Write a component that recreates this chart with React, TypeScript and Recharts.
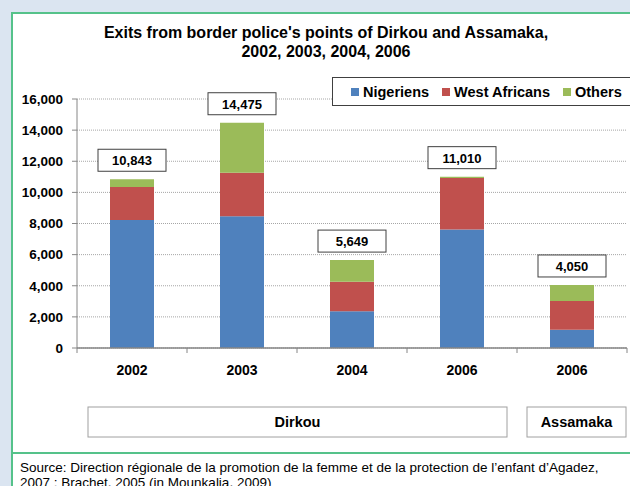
import { BarChart, Bar, XAxis, YAxis, CartesianGrid, LabelList } from 'recharts';

const years = ['2002', '2003', '2004', '2006', '2006'];
const posts = ['Dirkou', 'Dirkou', 'Dirkou', 'Dirkou', 'Assamaka'];
const nigeriens = [8220, 8470, 2360, 7620, 1180];
const westAfricans = [2120, 2790, 1890, 3300, 1840];
const others = [503, 3215, 1399, 90, 1030];
const totals = [10843, 14475, 5649, 11010, 4050];
const yTicks = [0, 2000, 4000, 6000, 8000, 10000, 12000, 14000, 16000];

const groups = [
  { name: 'Dirkou', start: 0, span: 4 },
  { name: 'Assamaka', start: 4, span: 1 },
];

const series = [
  { key: 'nigeriens', name: 'Nigeriens', color: '#4f81bd' },
  { key: 'westAfricans', name: 'West Africans', color: '#c0504d' },
  { key: 'others', name: 'Others', color: '#9bbb59' },
];

const data = years.map((year, i) => ({
  id: posts[i] + ' ' + year,
  year,
  nigeriens: nigeriens[i],
  westAfricans: westAfricans[i],
  others: others[i],
  total: totals[i],
}));

const font = "'Liberation Sans', Arial, sans-serif";
const fmt = (v: number) => v.toLocaleString('en-US');

// box insets for the post name boxes under the axis (left, right)
const groupInsets: Record<string, [number, number]> = { Dirkou: [11, 10], Assamaka: [10, 1] };

function XTick(props: any) {
  const { x, y, payload } = props;
  const i = payload.index ?? props.index ?? 0;
  const half = payload.offset || 55;
  const group = groups.find((g) => g.start === i);
  return (
    <g>
      <line x1={x - half} x2={x - half} y1={y} y2={y + 5} stroke='#868686' />
      {i === years.length - 1 && <line x1={x + half} x2={x + half} y1={y} y2={y + 5} stroke='#868686' />}
      <text x={x} y={y + 27} textAnchor='middle' fontSize={14} fontWeight='bold' fill='#000' fontFamily={font}>
        {years[i]}
      </text>
      {group && (
        <g>
          <rect
            x={x - half + groupInsets[group.name][0]}
            y={y + 59}
            width={group.span * half * 2 - groupInsets[group.name][0] - groupInsets[group.name][1]}
            height={30}
            fill='#fff'
            stroke='#a0a0a0'
          />
          <text
            x={x - half + (group.span * half * 2 + groupInsets[group.name][0] - groupInsets[group.name][1]) / 2}
            y={y + 79}
            textAnchor='middle'
            fontSize={14.5}
            fontWeight='bold'
            fill='#000'
            fontFamily={font}
          >
            {group.name}
          </text>
        </g>
      )}
    </g>
  );
}

function TotalLabel(props: any) {
  const { x, y, width, value } = props;
  const cx = x + width / 2;
  return (
    <g>
      <rect x={cx - 34} y={y - 30} width={68} height={22} fill='#fff' stroke='#404040' />
      <text x={cx} y={y - 14} textAnchor='middle' fontSize={13} fontWeight='bold' fill='#000' fontFamily={font}>
        {fmt(value)}
      </text>
    </g>
  );
}

export default function App() {
  return (
    <div style={{ position: 'absolute', left: 0, top: 0, width: 630, height: 486, background: '#dbe5f1', overflow: 'hidden', fontFamily: font }}>
      <div style={{ position: 'absolute', left: 11, top: 12, width: 640, height: 500, background: '#fff', borderLeft: '2px solid #55c28a', borderTop: '2px solid #55c28a' }} />
      <div style={{ position: 'absolute', left: 11, top: 452, width: 630, height: 0, borderTop: '2px solid #55c28a' }} />
      <div style={{ position: 'absolute', left: 0, top: 0 }}>
        <BarChart width={630} height={450} data={data} margin={{ top: 99, right: 3, left: 0, bottom: 12 }} barCategoryGap='30%'>
          <CartesianGrid vertical={false} stroke='#a6a6a6' strokeDasharray='1 1' />
          <XAxis
            dataKey='id'
            height={90}
            tick={<XTick />}
            tickLine={false}
            tickSize={0}
            tickMargin={0}
            axisLine={{ stroke: '#868686', strokeWidth: 1.5 }}
            interval={0}
          />
          <YAxis
            width={77}
            domain={[0, 16000]}
            ticks={yTicks}
            tickFormatter={fmt}
            tickSize={5}
            tickMargin={9}
            axisLine={{ stroke: '#868686' }}
            tickLine={{ stroke: '#868686' }}
            tick={{ fontSize: 13.5, fontWeight: 'bold', fill: '#000', fontFamily: font }}
          />
          {series.map((s) => (
            <Bar key={s.key} dataKey={s.key} name={s.name} stackId='a' fill={s.color} isAnimationActive={false}>
              {s.key === 'others' && <LabelList dataKey='total' content={<TotalLabel />} />}
            </Bar>
          ))}
        </BarChart>
      </div>
      <div style={{ position: 'absolute', left: 0, top: 23, width: 652, textAlign: 'center', fontSize: 16, fontWeight: 'bold', lineHeight: '19px', color: '#000' }}>
        Exits from border police's points of Dirkou and Assamaka,
        <br />
        2002, 2003, 2004, 2006
      </div>
      <div style={{ position: 'absolute', left: 332, top: 77, width: 310, height: 29, background: '#fff', border: '1px solid #404040', display: 'flex', alignItems: 'center', paddingLeft: 18, boxSizing: 'border-box' }}>
        {series.map((s) => (
          <div key={s.key} style={{ display: 'flex', alignItems: 'center', marginRight: 13, fontSize: 14.5, fontWeight: 'bold', color: '#000' }}>
            <span style={{ display: 'inline-block', width: 8, height: 8, background: s.color, marginRight: 4 }} />
            {s.name}
          </div>
        ))}
      </div>
      <div style={{ position: 'absolute', left: 20, top: 460, fontSize: 13.5, lineHeight: '15px', color: '#000', whiteSpace: 'nowrap' }}>
        Source: Direction régionale de la promotion de la femme et de la protection de l’enfant d’Agadez,
        <br />
        2007 ; Brachet, 2005 (in Mounkalia, 2009)
      </div>
    </div>
  );
}
